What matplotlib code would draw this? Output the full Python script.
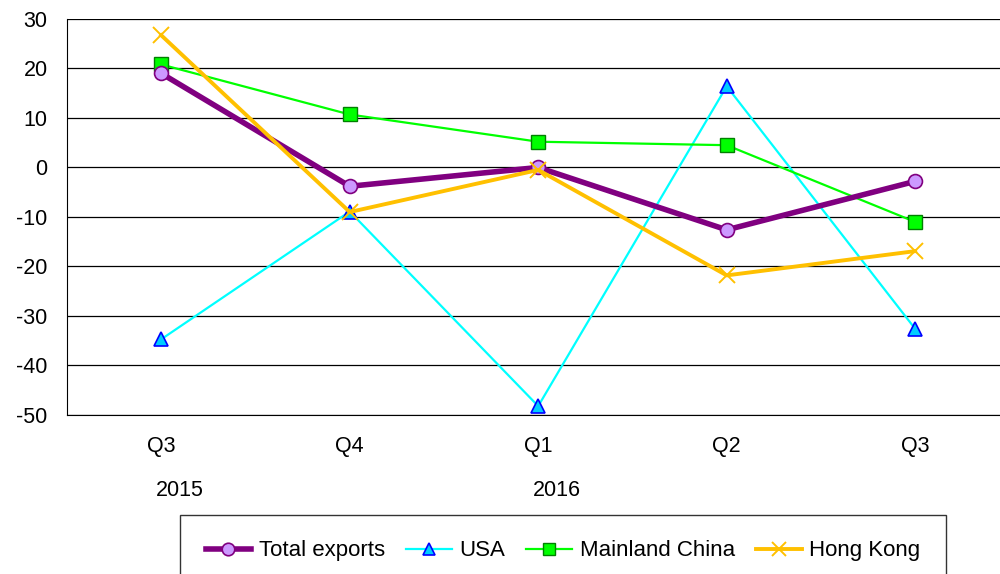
import matplotlib
matplotlib.use("Agg")
import matplotlib.pyplot as plt
from matplotlib.font_manager import FontProperties

categories = ["Q3", "Q4", "Q1", "Q2", "Q3"]
year_labels = ["2015", "", "2016", "", ""]
total_exports = [19.0, -3.8, 0.0, -12.6, -2.8]
usa = [-34.7, -8.9, -48.2, 16.4, -32.6]
mainland_china = [20.8, 10.7, 5.2, 4.5, -11.0]
hong_kong = [26.7, -9.0, -0.5, -21.8, -16.9]
yticks = [30, 20, 10, 0, -10, -20, -30, -40, -50]

plt.rcParams['font.family'] = ['Liberation Sans', 'DejaVu Sans']

fig = plt.figure(figsize=(10, 5.74), dpi=100)
ax = fig.add_axes([0.067, 0.277, 0.933, 0.690])

x = list(range(len(categories)))
ax.plot(x, total_exports, color="#800080", lw=4.0, marker="o", ms=10,
        mfc="#CC99FF", mec="#800080", mew=1.2, label="Total exports", zorder=5)
ax.plot(x, usa, color="#00FFFF", lw=1.6, marker="^", ms=10,
        mfc="#00CCFF", mec="#0000FF", mew=1.2, label="USA", zorder=3)
ax.plot(x, mainland_china, color="#00FF00", lw=1.6, marker="s", ms=10,
        mfc="#00FF00", mec="#008000", mew=1.0, label="Mainland China", zorder=4)
ax.plot(x, hong_kong, color="#FFC000", lw=2.8, marker="x", ms=11,
        mec="#FFC000", mew=1.4, label="Hong Kong", zorder=6)

ax.set_xlim(-0.5, 4.45)
ax.set_ylim(-50, 30)
ax.set_yticks(yticks)
ax.set_yticklabels([str(v) for v in yticks], fontsize=15.5)
ax.set_xticks(x)
ax.set_xticklabels(categories, fontsize=15.5)
ax.tick_params(axis='x', length=0, pad=15)
ax.tick_params(axis='y', length=0, pad=14)
ax.yaxis.grid(True, color="black", lw=0.9)
ax.set_axisbelow(True)
for s in ["top", "right"]:
    ax.spines[s].set_visible(False)
ax.spines["left"].set_color("black")
ax.spines["bottom"].set_color("black")

for xi, yl in zip(x, year_labels):
    if yl:
        ax.text(xi + 0.1, -0.19, yl, transform=ax.get_xaxis_transform(),
                ha="center", va="center", fontsize=15.5)

leg = fig.legend(loc="upper left", bbox_to_anchor=(0.18, 0.103), ncol=4,
                 prop=FontProperties(family="Liberation Sans", size=16),
                 frameon=True, fancybox=False, edgecolor="black",
                 handlelength=2.05, handletextpad=0.35, columnspacing=0.95,
                 borderpad=1.15, borderaxespad=0, markerscale=0.9)
leg.get_frame().set_linewidth(1.0)

fig.savefig("out.png", dpi=100)
